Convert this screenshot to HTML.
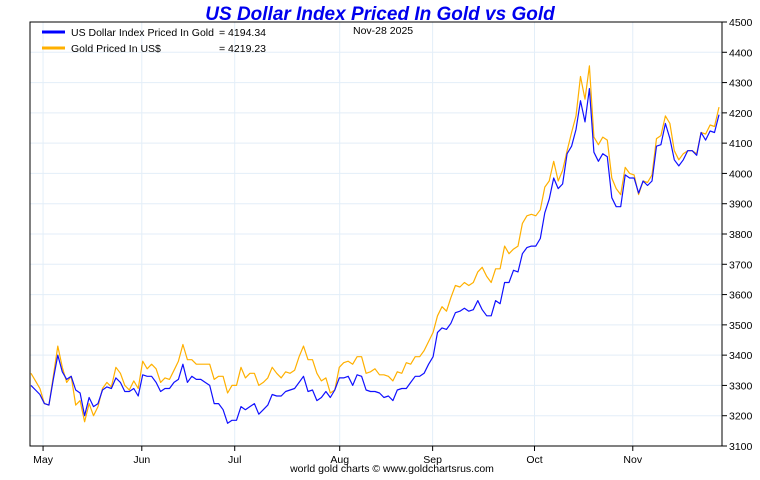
<!DOCTYPE html>
<html><head><meta charset="utf-8"><style>
body{margin:0;background:#fff;width:760px;height:475px;overflow:hidden;font-family:"Liberation Sans",sans-serif}
svg text{font-family:"Liberation Sans",sans-serif}
</style></head><body>
<svg id="chart" width="760" height="475" xmlns="http://www.w3.org/2000/svg">
<text x="380" y="20" text-anchor="middle" font-size="19" font-weight="bold" font-style="italic" fill="#0000ee">US Dollar Index Priced In Gold vs Gold</text>
<g id="grid"></g>
<g id="series"></g>
<rect x="30" y="22" width="692" height="424" fill="none" stroke="#000" stroke-width="1"/>
<g id="yaxis"></g>
<g id="xaxis"></g>
<g>
<line x1="42" y1="32" x2="65" y2="32" stroke="#0000ff" stroke-width="3"/>
<text x="71" y="36" font-size="10.5">US Dollar Index Priced In Gold</text>
<text x="219" y="36" font-size="10.5">= 4194.34</text>
<line x1="42" y1="48" x2="65" y2="48" stroke="#ffb000" stroke-width="3"/>
<text x="71" y="52" font-size="10.5">Gold Priced In US$</text>
<text x="219" y="52" font-size="10.5">= 4219.23</text>
<text x="353" y="34" font-size="10.5">Nov-28  2025</text>
</g>
<text x="392" y="472" text-anchor="middle" font-size="10.5">world gold charts © www.goldchartsrus.com</text>
</svg>
<script>
const goldValues=[3340,3315,3290,3240,3235,3330,3430,3360,3310,3330,3235,3250,3180,3240,3200,3230,3290,3310,3295,3360,3340,3300,3285,3315,3290,3380,3355,3370,3355,3310,3325,3320,3350,3380,3435,3385,3385,3370,3370,3370,3370,3320,3330,3330,3275,3300,3300,3360,3325,
3340,3340,3300,3310,3325,3360,3340,3325,3345,3340,3350,3395,3430,3385,3385,3340,3315,3325,3275,3285,3360,3375,3380,3370,3395,3395,3340,3345,3355,3335,3335,3330,3315,3345,3340,3375,3370,3395,3395,3415,3445,3475,
3530,3560,3545,3590,3630,3625,3640,3630,3640,3675,3690,3660,3640,3685,3685,3760,3735,3750,3760,3835,3860,3865,3860,3880,3955,3975,4040,3975,4010,4075,
4135,4190,4320,4245,4355,4120,4095,4120,4110,3985,3950,3930,4020,4000,3995,3930,3975,3970,3995,4115,4125,4190,4165,4075,4045,4065,4075,4075,4065,4135,4130,4160,4155,4219];
const usdValues=[3300,3285,3270,3240,3235,3320,3400,3345,3320,3330,3285,3275,3200,3260,3230,3240,3285,3295,3290,3325,3310,3280,3280,3290,3265,3335,3330,3330,3310,3280,3290,3290,3310,3320,3370,3310,3330,3320,3320,3310,3300,3240,3240,3220,3175,3185,3185,3230,3220,
3230,3240,3205,3220,3235,3270,3265,3265,3280,3285,3290,3310,3330,3280,3285,3250,3260,3280,3260,3285,3325,3325,3330,3300,3335,3330,3285,3280,3280,3275,3260,3265,3250,3285,3290,3290,3310,3330,3330,3340,3370,3395,
3475,3490,3485,3505,3540,3545,3555,3545,3550,3580,3550,3530,3530,3580,3570,3640,3640,3680,3675,3735,3755,3760,3760,3785,3870,3915,3985,3950,3965,4065,
4090,4145,4240,4170,4280,4070,4040,4065,4055,3920,3890,3890,3995,3985,3985,3935,3975,3960,3975,4090,4095,4165,4115,4045,4025,4045,4075,4075,4060,4135,4110,4140,4135,4194];
const yTicks=[3100,3200,3300,3400,3500,3600,3700,3800,3900,4000,4100,4200,4300,4400,4500];
const monthLabels=["May","Jun","Jul","Aug","Sep","Oct","Nov"];
const monthIndex=[2.7,24.8,45.6,69.1,89.9,112.7,134.7];

const NS="http://www.w3.org/2000/svg";
const X0=31,X1=719,YT=22,YB=446,VMIN=3100,VMAX=4500;
function xs(i){return X0+(X1-X0)*i/(goldValues.length-1);}
function ys(v){return YB-(v-VMIN)/(VMAX-VMIN)*(YB-YT);}
function mk(tag,attrs,parent){const e=document.createElementNS(NS,tag);for(const k in attrs)e.setAttribute(k,attrs[k]);parent.appendChild(e);return e;}
const grid=document.getElementById('grid'),yax=document.getElementById('yaxis'),xax=document.getElementById('xaxis'),ser=document.getElementById('series');
yTicks.forEach(t=>{
  const y=ys(t);
  const g=mk('line',{x1:30,x2:722,y1:y,y2:y,stroke:'#e3eef8','stroke-width':1},grid);
  
  
  const tk=mk('line',{x1:722,x2:727,y1:y,y2:y,stroke:'#000'},yax);
  
  
  const tx=mk('text',{x:729,y:y+4,'font-size':10.5},yax);
  tx.textContent=t;
  
  
});
monthLabels.forEach((m,k)=>{
  const x=xs(monthIndex[k]);
  const g=mk('line',{x1:x,x2:x,y1:22,y2:446,stroke:'#e3eef8','stroke-width':1},grid);
  
  
  const tk=mk('line',{x1:x,x2:x,y1:446,y2:451,stroke:'#000'},xax);
  
  
  const tx=mk('text',{x:x,y:463,'font-size':10.5,'text-anchor':'middle'},xax);
  tx.textContent=m;
  
  
});
function line(vals,color,name){
  const d=vals.map((v,i)=>(i?'L':'M')+xs(i).toFixed(1)+' '+ys(v).toFixed(1)).join(' ');
  const p=mk('path',{d:d,fill:'none',stroke:color,'stroke-width':1.2,'stroke-linejoin':'round'},ser);
  
  
}
line(goldValues,'#ffb000','gold-line');
line(usdValues,'#1010ff','usd-index-line');
</script>
</body></html>
